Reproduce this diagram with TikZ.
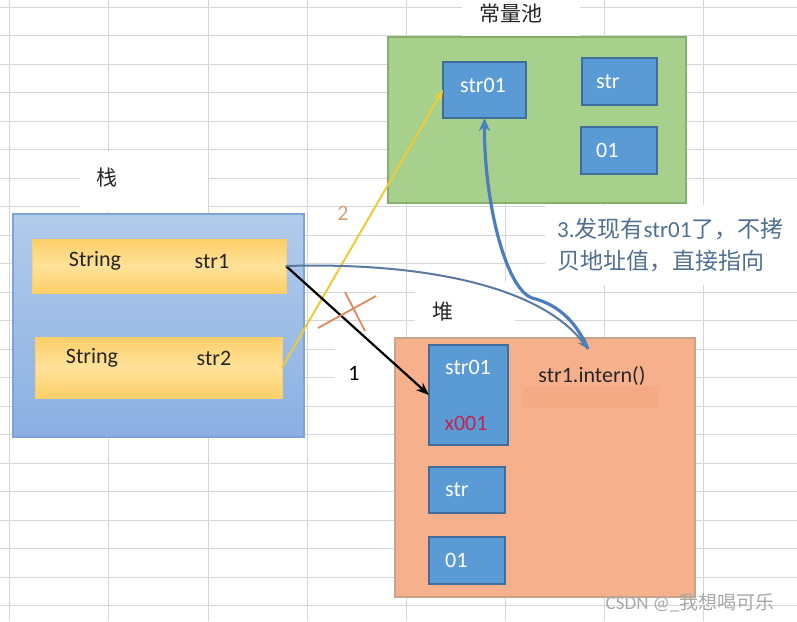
\documentclass[tikz,border=0pt]{standalone}
\usepackage{fontspec}
\setmainfont{Carlito}
\newfontfamily\cjk{Noto Sans CJK SC}
\usetikzlibrary{arrows.meta}
\definecolor{gridc}{HTML}{D6D6D6}
\definecolor{poolfill}{HTML}{A8D08D}
\definecolor{pooldraw}{HTML}{86AE6E}
\definecolor{cellfill}{HTML}{5B9BD5}
\definecolor{celldraw}{HTML}{3F6D9C}
\definecolor{stacktop}{HTML}{B3CBEB}
\definecolor{stackbot}{HTML}{8AB0E2}
\definecolor{stackdraw}{HTML}{7FA3D6}
\definecolor{rowmid}{HTML}{FFE29A}
\definecolor{rowedge}{HTML}{FCCF68}
\definecolor{heapfill}{HTML}{F6B18C}
\definecolor{heapdraw}{HTML}{C9A48A}
\definecolor{bandc}{HTML}{F29F7A}
\definecolor{txtdark}{HTML}{262626}
\definecolor{notec}{HTML}{51708F}
\definecolor{redtxt}{HTML}{C2234F}
\definecolor{yellowln}{HTML}{EFCB3A}
\definecolor{twoc}{HTML}{D6A072}
\definecolor{xmark}{HTML}{E0895E}
\definecolor{thinblue}{HTML}{5A79A3}
\definecolor{thickblue}{HTML}{4A7EBE}
\definecolor{wmark}{HTML}{A8A8A8}
\begin{document}
\begin{tikzpicture}[x=1pt,y=-1pt,
  gridline/.style={draw=gridc,line width=0.9pt},
  corner/.style={anchor=north west,inner sep=0pt,outer sep=0pt},
  poolbox/.style={corner,fill=poolfill,draw=pooldraw,line width=1.2pt},
  cell/.style={corner,fill=cellfill,draw=celldraw,line width=1.6pt},
  stackbox/.style={corner,top color=stacktop,bottom color=stackbot,draw=stackdraw,line width=1.2pt},
  rowbox/.style={corner,top color=rowedge,bottom color=rowedge,middle color=rowmid,draw=rowedge,line width=1pt},
  heapbox/.style={corner,fill=heapfill,draw=heapdraw,line width=1.2pt},
  wtxt/.style={text=white,font=\fontsize{22}{24}\selectfont,inner sep=0pt},
  dtxt/.style={text=txtdark,font=\fontsize{22}{24}\selectfont,inner sep=0pt},
  cjklabel/.style={text=txtdark,font=\cjk\fontsize{21}{24}\selectfont,inner sep=0pt},
  notetxt/.style={text=notec,font=\fontsize{23}{26}\selectfont,inner sep=0pt,anchor=west},
  mask/.style={fill=white}
]
\useasboundingbox (0,0) rectangle (797,621);
\fill[white] (0,0) rectangle (797,621);
% spreadsheet grid
\foreach \x in {9,108.5,208,307,406,505,604,703} \draw[gridline] (\x,0) -- (\x,621);
\foreach \k in {0,...,21} \draw[gridline] (0,{7+28.5*\k}) -- (797,{7+28.5*\k});
% white label areas
\fill[mask] (462,0) rectangle (580,37);
\fill[mask] (80,152) rectangle (208,212);
\fill[mask] (545,205) rectangle (797,285);
\fill[mask] (415,282) rectangle (515,337);
\fill[mask] (335,347) rectangle (394,400);

% constant pool
\node[poolbox,minimum width=298pt,minimum height=166pt] (pool) at (388,37) {};
\node[cell,minimum width=83pt,minimum height=56pt] (pstr01) at (443,62) {};
\node[cell,minimum width=75pt,minimum height=47pt] (pstr) at (582,58) {};
\node[cell,minimum width=76pt,minimum height=47pt] (p01) at (581,127) {};
\node[wtxt] (pstr01t) at (483,85) {str01};
\node[wtxt,anchor=west] (pstrt) at (596,82) {str};
\node[wtxt,anchor=west] (p01t) at (596,150) {01};
\node[cjklabel] (poollab) at (511,14) {常量池};

% stack
\node[stackbox,minimum width=291pt,minimum height=223pt] (stack) at (13,214) {};
\node[rowbox,minimum width=254pt,minimum height=54pt] (row1) at (32,239) {};
\node[rowbox,minimum width=247pt,minimum height=61pt] (row2) at (35,337) {};
\node[dtxt] (r1a) at (95,261) {String};
\node[dtxt] (r1b) at (212,261) {str1};
\node[dtxt] (r2a) at (92,358) {String};
\node[dtxt] (r2b) at (214,358) {str2};
\node[cjklabel] (stacklab) at (107,178) {栈};

% heap
\node[heapbox,minimum width=300pt,minimum height=259pt] (heap) at (395,338) {};
\fill[bandc,opacity=0.35] (523,386) rectangle (657,408);
\node[cell,minimum width=79pt,minimum height=100pt] (hstr01) at (429,345) {};
\node[cell,minimum width=76pt,minimum height=46pt] (hstr) at (429,467) {};
\node[cell,minimum width=76pt,minimum height=47pt] (h01) at (429,537) {};
\node[wtxt] (hstr01t) at (468,367) {str01};
\node[wtxt,text=redtxt] (hx001) at (466,423) {x001};
\node[wtxt,anchor=west] (hstrt) at (445,490) {str};
\node[wtxt,anchor=west] (h01t) at (445,560) {01};
\node[dtxt] (intern) at (592,376) {str1.intern()};
\node[cjklabel] (heaplab) at (443,312) {堆};
\coordinate (tip) at (588,349);

% note
\node[notetxt] (note1) at (557,229) {3.{\cjk 发现有}str01{\cjk 了，不拷}};
\node[notetxt] (note2) at (557,261) {\cjk 贝地址值，直接指向};

% connectors
\draw[yellowln,line width=2pt,-{Stealth[length=11pt,width=9pt]}] (row2.east) -- (pstr01.west);
\node[text=twoc,font=\fontsize{22}{24}\selectfont,inner sep=0pt] (lab2) at (343,213) {2};
\draw[black,line width=2.2pt,-{Stealth[length=13pt,width=10pt]}] (row1.east) -- (hstr01.west);
\node[dtxt,text=black] (lab1) at (354,373) {1};
\draw[xmark,line width=1.8pt] (318,328) -- (376,296);
\draw[xmark,line width=1.8pt] (345,292) -- (365,331);
\draw[thinblue,line width=2pt,-{Stealth[length=11pt,width=9pt]}]
  (row1.east) .. controls (420,262) and (540,285) .. (tip);
\draw[thickblue,line width=3.2pt,-{Stealth[length=13pt,width=11pt]}]
  (tip) .. controls (572,312) and (548,302) .. (532,298)
        .. controls (505,288) and (484,200) .. (pstr01.south);

% watermark
\node[text=wmark,font=\fontsize{19}{21}\selectfont,inner sep=0pt] (wm) at (690,603) {CSDN @\_{\cjk 我想喝可乐}};
\end{tikzpicture}
\end{document}
